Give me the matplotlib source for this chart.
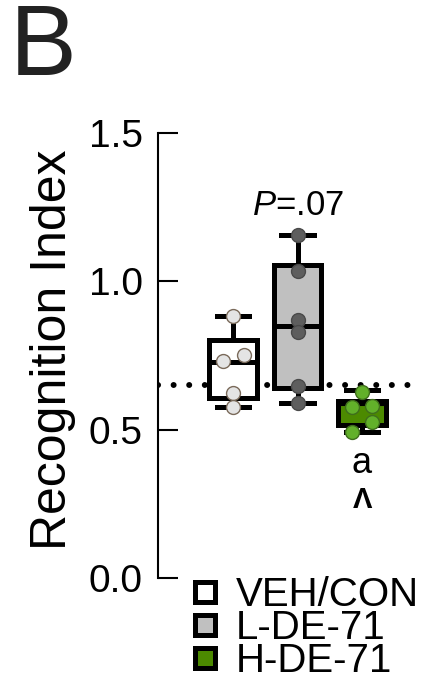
import matplotlib
matplotlib.use("Agg")
import matplotlib.pyplot as plt
from matplotlib.lines import Line2D
from matplotlib.ticker import FormatStrFormatter

plt.rcParams['font.family'] = ['Liberation Sans', 'DejaVu Sans']
plt.rcParams['mathtext.fontset'] = 'custom'
plt.rcParams['mathtext.rm'] = 'Liberation Sans'
plt.rcParams['mathtext.it'] = 'Liberation Sans:italic'

# ---------------- data ----------------
groups = ["VEH/CON", "L-DE-71", "H-DE-71"]
veh_points = [0.882, 0.751, 0.731, 0.623, 0.576]
low_points = [1.155, 1.035, 0.869, 0.828, 0.646, 0.589]
high_points = [0.626, 0.576, 0.579, 0.525, 0.492]
whislo = [0.576, 0.589, 0.492]
q1 = [0.606, 0.641, 0.517]
median = [0.727, 0.848, 0.582]
q3 = [0.803, 1.056, 0.598]
whishi = [0.882, 1.155, 0.633]
chance_level = 0.65
yticks = [0.0, 0.5, 1.0, 1.5]
annotations = ["$\\mathit{P}$=.07", "a", "Λ"]
annot_y = [1.222, 0.354, 0.236]

# styles
box_colors = ["#ffffff", "#c0c0c0", "#4c8a00"]
point_face = ["#e4e4e4", "#5e5e5e", "#62b02a"]
point_edge = ["#7a6a5a", "#4a4a4a", "#3f6e1c"]
jitter = [[0, 0.17, -0.16, 0, 0],
          [0, 0, 0, 0, 0, 0],
          [0, -0.16, 0.16, 0.16, -0.16]]
all_points = [veh_points, low_points, high_points]

W, H = 431, 685
fig = plt.figure(figsize=(W / 100, H / 100), dpi=100)
ax = fig.add_axes([158 / W, 1 - 578 / H, (412 - 158) / W, (578 - 133) / H])

positions = [1, 2, 3]
ax.axhline(chance_level, color='black', lw=4.3, ls=(0, (0.01, 2.6)),
           dash_capstyle='round', zorder=1)

lw = 3.6
for i, pos in enumerate(positions):
    stats = [dict(med=median[i], q1=q1[i], q3=q3[i],
                  whislo=whislo[i], whishi=whishi[i], fliers=[])]
    ax.bxp(stats, positions=[pos], widths=0.74, capwidths=0.5,
           patch_artist=True, showfliers=False,
           boxprops=dict(facecolor=box_colors[i], edgecolor='black', linewidth=lw),
           whiskerprops=dict(color='black', linewidth=lw),
           capprops=dict(color='black', linewidth=lw),
           medianprops=dict(color='black', linewidth=(lw if i < 2 else 1.5)),
           zorder=2)
    xs = [pos + j for j in jitter[i]]
    ax.plot(xs, all_points[i], 'o', ms=10, mfc=point_face[i], mec=point_edge[i],
            mew=1.0, ls='none', zorder=4, clip_on=False)

ax.text(2, annot_y[0], annotations[0], ha='center', va='baseline', fontsize=25)
ax.text(3, annot_y[1], annotations[1], ha='center', va='baseline', fontsize=26)
ax.text(3, annot_y[2], annotations[2], ha='center', va='baseline', fontsize=21,
        fontweight='bold')

ax.set_xlim(-0.163, 3.775)
ax.set_ylim(0, 1.5)
ax.set_yticks(yticks)
ax.yaxis.set_major_formatter(FormatStrFormatter('%.1f'))
ax.set_xticks([])
for s in ['top', 'right', 'bottom']:
    ax.spines[s].set_visible(False)
ax.spines['left'].set_linewidth(1.5)
ax.spines['left'].set_bounds(0, 1.5)
ax.tick_params(axis='y', direction='in', length=14.4, width=1.5,
               labelsize=28, pad=11)
ax.set_ylabel("Recognition Index", fontsize=36)
ax.yaxis.set_label_coords(-0.322, 0.512)

fig.text(10 / W, 1 - 75 / H, "B", fontsize=72, color='#222222',
         ha='left', va='baseline')

handles = [Line2D([], [], marker='s', ls='none', ms=14, mew=3.6,
                  mfc=c, mec='black') for c in box_colors]
fig.legend(handles, groups, loc='upper left',
           bbox_to_anchor=(194 / W, 1 - 576 / H), frameon=False,
           fontsize=29, handlelength=0.57, handletextpad=0.47,
           labelspacing=-0.12, borderpad=0, borderaxespad=0)

fig.savefig("out.png", dpi=100)
